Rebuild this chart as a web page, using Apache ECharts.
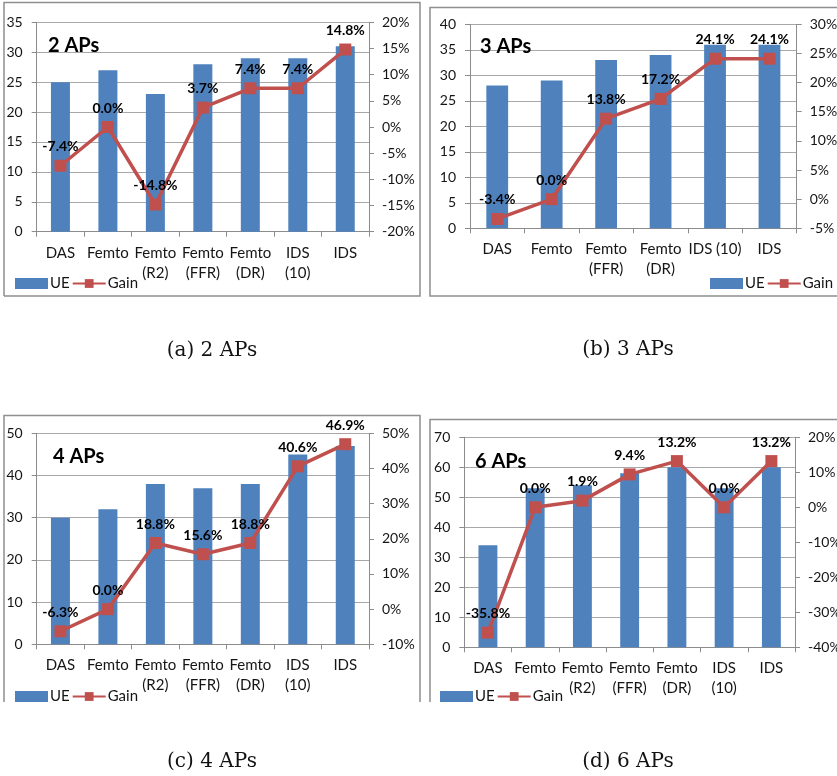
<!DOCTYPE html>
<html>
<head>
<meta charset="utf-8">
<script src="https://cdn.jsdelivr.net/npm/echarts@6/dist/echarts.min.js"></script>
<style>
  html, body { margin: 0; padding: 0; background: #fff; }
  #c { width: 837px; height: 776px; }
</style>
</head>
<body>
<div id="c"></div>
<script>
// Served UEs per scheme and gain (%) over the plain Femto baseline
const cats2 = ['DAS', 'Femto', 'Femto\n(R2)', 'Femto\n(FFR)', 'Femto\n(DR)', 'IDS\n(10)', 'IDS'];
const ue2 = [25, 27, 23, 28, 29, 29, 31];
const gain2 = [-7.4, 0.0, -14.8, 3.7, 7.4, 7.4, 14.8];

const cats3 = ['DAS', 'Femto', 'Femto\n(FFR)', 'Femto\n(DR)', 'IDS (10)', 'IDS'];
const ue3 = [28, 29, 33, 34, 36, 36];
const gain3 = [-3.4, 0.0, 13.8, 17.2, 24.1, 24.1];

const cats4 = ['DAS', 'Femto', 'Femto\n(R2)', 'Femto\n(FFR)', 'Femto\n(DR)', 'IDS\n(10)', 'IDS'];
const ue4 = [30, 32, 38, 37, 38, 45, 47];
const gain4 = [-6.3, 0.0, 18.8, 15.6, 18.8, 40.6, 46.9];

const cats6 = ['DAS', 'Femto', 'Femto\n(R2)', 'Femto\n(FFR)', 'Femto\n(DR)', 'IDS\n(10)', 'IDS'];
const ue6 = [34, 53, 54, 58, 60, 53, 60];
const gain6 = [-35.8, 0.0, 1.9, 9.4, 13.2, 0.0, 13.2];

// axis ranges: [min, max, step]
const ueRange2 = [0, 35, 5],  gainRange2 = [-20, 20, 5];
const ueRange3 = [0, 40, 5],  gainRange3 = [-5, 30, 5];
const ueRange4 = [0, 50, 10], gainRange4 = [-10, 50, 10];
const ueRange6 = [0, 70, 10], gainRange6 = [-40, 20, 10];

const titles = ['2 APs', '3 APs', '4 APs', '6 APs'];
const captions = ['(a) 2 APs', '(b) 3 APs', '(c) 4 APs', '(d) 6 APs'];

const panels = [
  { cats: cats2, ue: ue2, gain: gain2, ueR: ueRange2, gR: gainRange2 },
  { cats: cats3, ue: ue3, gain: gain3, ueR: ueRange3, gR: gainRange3 },
  { cats: cats4, ue: ue4, gain: gain4, ueR: ueRange4, gR: gainRange4 },
  { cats: cats6, ue: ue6, gain: gain6, ueR: ueRange6, gR: gainRange6 }
];

// page layout of each sub-figure (pixels)
const layout = [
  { plot: [36.7, 22.3, 369, 231.7], head: [48, 46], key: [10, 280], cap: [212, 351],
    frame: [[4, 296], [4, 2.5], [420, 2.5], [420, 296], [4, 296]] },
  { plot: [470, 24.3, 796.7, 228.3], head: [480, 47], key: [705, 280], cap: [628, 350],
    frame: [[840, 7.5], [430, 7.5], [430, 296], [840, 296]] },
  { plot: [36.7, 433.3, 369, 644.3], head: [53, 457], key: [10, 693], cap: [212, 762],
    frame: [[4, 702], [4, 415.5], [420, 415.5], [420, 702]] },
  { plot: [464.3, 437.3, 795, 647.3], head: [475, 462], key: [435, 693], cap: [628, 762],
    frame: [[840, 419.5], [430, 419.5], [430, 702]] }
];

const FONT = 'Lato, "Open Sans", sans-serif';
const BLUE = '#4F81BD', RED = '#C0504D', AXIS = '#8c8c8c', GRID = '#a8a8a8', INK = '#151515';

const grid = [], xAxis = [], yAxis = [], series = [], legend = [], graphic = [];

panels.forEach((p, i) => {
  const L = layout[i];
  grid.push({
    left: L.plot[0], top: L.plot[1],
    width: L.plot[2] - L.plot[0], height: L.plot[3] - L.plot[1],
    containLabel: false, outerBoundsMode: 'none'
  });
  xAxis.push({
    type: 'category', gridIndex: i, data: p.cats, boundaryGap: true,
    axisLine: { show: true, lineStyle: { color: AXIS, width: 1 } },
    axisTick: { show: true, length: 5, alignWithLabel: false, interval: 0, lineStyle: { color: AXIS } },
    axisLabel: { interval: 0, margin: 11, color: INK, fontSize: 15, fontFamily: FONT, lineHeight: 20 },
    splitLine: { show: false }
  });
  yAxis.push({
    type: 'value', gridIndex: i, position: 'left',
    min: p.ueR[0], max: p.ueR[1], interval: p.ueR[2],
    axisLine: { show: true, lineStyle: { color: AXIS, width: 1 } },
    axisTick: { show: true, length: 5, lineStyle: { color: AXIS } },
    axisLabel: { margin: 14, color: INK, fontSize: 14, fontFamily: FONT },
    splitLine: { show: true, lineStyle: { color: GRID, width: 1 } }
  });
  yAxis.push({
    type: 'value', gridIndex: i, position: 'right',
    min: p.gR[0], max: p.gR[1], interval: p.gR[2],
    axisLine: { show: true, lineStyle: { color: AXIS, width: 1 } },
    axisTick: { show: true, length: 5, lineStyle: { color: AXIS } },
    axisLabel: { margin: 13, color: INK, fontSize: 14, fontFamily: FONT, formatter: '{value}%' },
    splitLine: { show: false }
  });
  series.push({
    type: 'bar', name: 'UE', xAxisIndex: i, yAxisIndex: 2 * i,
    data: p.ue, barWidth: '40%', itemStyle: { color: BLUE }
  });
  series.push({
    type: 'line', name: 'Gain', xAxisIndex: i, yAxisIndex: 2 * i + 1,
    data: p.gain, symbol: 'rect', symbolSize: 12, z: 3,
    lineStyle: { color: RED, width: 3.5 }, itemStyle: { color: RED },
    label: {
      show: true, position: 'top', distance: 6,
      formatter: d => d.value.toFixed(1) + '%',
      fontWeight: 'bold', fontSize: 14, color: '#000', fontFamily: FONT
    }
  });
  legend.push({
    left: L.key[0], top: L.key[1] - 9, width: 400, orient: 'horizontal',
    itemWidth: 33, itemHeight: 11, itemGap: 2, selectedMode: false,
    textStyle: { fontSize: 15, color: INK, fontFamily: FONT, padding: [0, 0, 0, -3] },
    data: [{ name: 'UE', icon: 'rect' }, { name: 'Gain' }]
  });
  graphic.push({
    type: 'polyline', silent: true, z: 0,
    shape: { points: L.frame },
    style: { stroke: '#8f8f8f', lineWidth: 1.5, fill: null }
  });
  graphic.push({
    type: 'text', x: L.head[0], y: L.head[1], z: 10,
    style: { text: titles[i], font: 'bold 20px ' + FONT, fill: '#000', verticalAlign: 'middle', align: 'left' }
  });
  graphic.push({
    type: 'text', x: L.cap[0], y: L.cap[1], z: 10,
    style: { text: captions[i], font: '20px "DejaVu Serif", serif', fill: '#111', verticalAlign: 'middle', align: 'center' }
  });
});

const chart = echarts.init(document.getElementById('c'), null, { renderer: 'canvas' });
chart.setOption({
  animation: false,
  backgroundColor: '#fff',
  grid, xAxis, yAxis, series, legend, graphic
});
</script>
</body>
</html>
